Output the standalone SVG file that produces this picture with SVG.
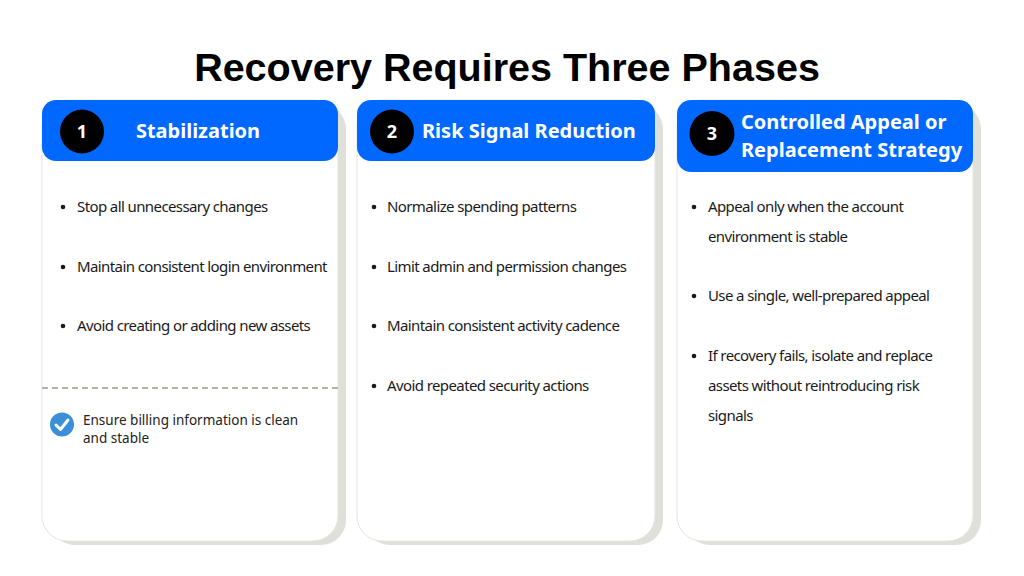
<svg xmlns="http://www.w3.org/2000/svg" width="1024" height="576" viewBox="0 0 1024 576">
<style>
.title{font-family:"Liberation Sans",Arial,sans-serif;font-weight:700;font-size:39.5px;fill:#000}
.shadow{fill:#e0e0da}
.card{fill:#fff;stroke:#e4e4e0;stroke-width:1}
.head{fill:#0068ff}
.num{fill:#000}
.numt{font-family:"Noto Sans","Open Sans",sans-serif;font-weight:700;font-size:18px;fill:#fff;text-anchor:middle}
.ht{font-family:"Noto Sans","Open Sans",sans-serif;font-weight:700;font-size:20px;fill:#fff}
.bt{font-family:"Noto Sans","Open Sans",sans-serif;font-size:15px;fill:#1a1a1a;letter-spacing:-0.6px}
.dot{fill:#1a1a1a}
.note{font-family:"Noto Sans","Open Sans",sans-serif;font-size:13.5px;fill:#222}
</style>
<rect width="1024" height="576" fill="#fff"/>
<text class="title" x="507" y="81" text-anchor="middle">Recovery Requires Three Phases</text>

<g id="phase1">
<rect class="shadow" x="50" y="104" width="296" height="441" rx="25"/>
<rect class="card" x="42" y="100" width="296" height="441" rx="25"/>
<rect class="head" x="42" y="100" width="296" height="61" rx="14"/>
<circle class="num" cx="82" cy="131.5" r="22"/>
<text class="numt" x="82" y="138">1</text>
<text class="ht" x="198" y="138" text-anchor="middle">Stabilization</text>
<circle class="dot" cx="63" cy="207" r="2.3"/>
<text class="bt" x="77" y="212">Stop all unnecessary changes</text>
<circle class="dot" cx="63" cy="267" r="2.3"/>
<text class="bt" x="77" y="272">Maintain consistent login environment</text>
<circle class="dot" cx="63" cy="326" r="2.3"/>
<text class="bt" x="77" y="331">Avoid creating or adding new assets</text>
<line x1="42" y1="388" x2="338" y2="388" stroke="#b3b3ab" stroke-width="2" stroke-dasharray="6 4"/>
<circle cx="62" cy="424.5" r="12" fill="#3a8fd8"/>
<path d="M56 425 L60.5 429.5 L68 420" fill="none" stroke="#fff" stroke-width="3" stroke-linecap="round" stroke-linejoin="round"/>
<text class="note" x="83" y="425">Ensure billing information is clean</text>
<text class="note" x="83" y="443">and stable</text>
</g>

<g id="phase2">
<rect class="shadow" x="365" y="104" width="298" height="441" rx="25"/>
<rect class="card" x="357" y="100" width="298" height="441" rx="25"/>
<rect class="head" x="357" y="100" width="298" height="61" rx="14"/>
<circle class="num" cx="392" cy="131.5" r="22"/>
<text class="numt" x="392" y="138">2</text>
<text class="ht" x="422" y="138">Risk Signal Reduction</text>
<circle class="dot" cx="374" cy="207" r="2.3"/>
<text class="bt" x="387" y="212">Normalize spending patterns</text>
<circle class="dot" cx="374" cy="267" r="2.3"/>
<text class="bt" x="387" y="272">Limit admin and permission changes</text>
<circle class="dot" cx="374" cy="326" r="2.3"/>
<text class="bt" x="387" y="331">Maintain consistent activity cadence</text>
<circle class="dot" cx="374" cy="386" r="2.3"/>
<text class="bt" x="387" y="391">Avoid repeated security actions</text>
</g>

<g id="phase3">
<rect class="shadow" x="685" y="104" width="296" height="441" rx="25"/>
<rect class="card" x="677" y="100" width="296" height="441" rx="25"/>
<rect class="head" x="677" y="100" width="296" height="72" rx="14"/>
<circle class="num" cx="712" cy="133.5" r="22.5"/>
<text class="numt" x="712" y="140">3</text>
<text class="ht" x="741" y="129">Controlled Appeal or</text>
<text class="ht" x="741" y="157">Replacement Strategy</text>
<circle class="dot" cx="694" cy="207" r="2.3"/>
<text class="bt" x="708" y="212">Appeal only when the account</text>
<text class="bt" x="708" y="242">environment is stable</text>
<circle class="dot" cx="694" cy="296" r="2.3"/>
<text class="bt" x="708" y="301">Use a single, well-prepared appeal</text>
<circle class="dot" cx="694" cy="356" r="2.3"/>
<text class="bt" x="708" y="361">If recovery fails, isolate and replace</text>
<text class="bt" x="708" y="391">assets without reintroducing risk</text>
<text class="bt" x="708" y="421">signals</text>
</g>

<g id="connectors"></g>
</svg>
